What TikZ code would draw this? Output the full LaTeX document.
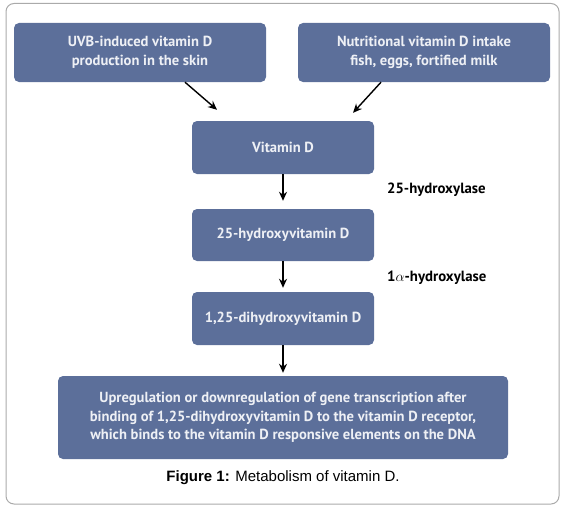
\documentclass[tikz,border=0pt]{standalone}
\usepackage{fontspec}
\setmainfont{Liberation Sans}
\newfontfamily\boxfont{PT Sans}
\usetikzlibrary{arrows.meta}
\definecolor{boxblue}{RGB}{92,111,154}
\definecolor{boxtext}{RGB}{238,240,245}
\definecolor{framegray}{RGB}{170,170,170}
\tikzset{
  bluebox/.style={fill=boxblue, draw=none, rounded corners=5pt, align=center,
    text=boxtext, font=\boxfont\bfseries\fontsize{14.6}{18.5}\selectfont, inner sep=0pt},
  arr/.style={-{Stealth[length=9pt,width=8pt]}, line width=1.4pt, black},
  enz/.style={anchor=west, font=\boxfont\bfseries\fontsize{14.8}{16}\selectfont, inner sep=0pt}
}
\begin{document}
\begin{tikzpicture}[x=1pt,y=-1pt]
\useasboundingbox (0,0) rectangle (564,511);
\draw[framegray, line width=1pt, rounded corners=8pt] (6,3.5) rectangle (559,504);
\node[bluebox, minimum width=252pt, minimum height=59pt] (uvb) at (140,52.5) {UVB-induced vitamin D\\production in the skin};
\node[bluebox, minimum width=252pt, minimum height=59pt] (nut) at (424,52.5) {Nutritional vitamin D intake\\fish, eggs, fortified milk};
\node[bluebox, minimum width=182pt, minimum height=53pt] (vd) at (283,147.5) {Vitamin D};
\node[bluebox, minimum width=182pt, minimum height=52pt] (oh) at (283,235) {25-hydroxyvitamin D};
\node[bluebox, minimum width=182pt, minimum height=53pt] (dioh) at (283,318.5) {1,25-dihydroxyvitamin D};
\node[bluebox, minimum width=450pt, minimum height=83pt] (gene) at (283,417.5) {Upregulation or downregulation of gene transcription after\\binding of 1,25-dihydroxyvitamin D to the vitamin D receptor,\\which binds to the vitamin D responsive elements on the DNA};
\node[enz] (e1) at (387,190) {25-hydroxylase};
\node[enz] (e2) at (387,278) {1$\alpha$-hydroxylase};
\node[font=\fontsize{15}{18}\selectfont, inner sep=0pt] (cap) at (283,478) {\textbf{Figure 1:} Metabolism of vitamin D.};
\draw[arr] ([xshift=45pt]uvb.south) -- ([xshift=-66pt,yshift=11pt]vd.north);
\draw[arr] ([xshift=-43pt]nut.south) -- ([xshift=70pt,yshift=8pt]vd.north);
\draw[arr, shorten >=8pt] (vd.south) -- (oh.north);
\draw[arr, shorten >=4pt] (oh.south) -- (dioh.north);
\draw[arr, shorten >=3pt] (dioh.south) -- (gene.north);
\end{tikzpicture}
\end{document}
